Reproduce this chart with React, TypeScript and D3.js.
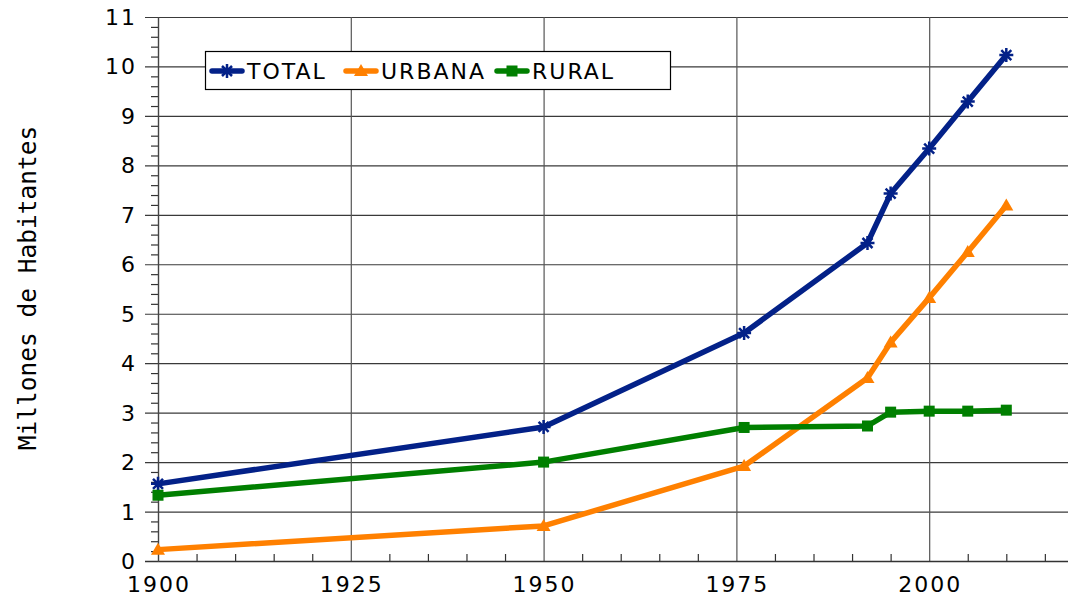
import React, { useEffect, useRef } from 'react';
import * as d3 from 'd3';

// years for each point
const years = [1900, 1950, 1976, 1992, 1995, 2000, 2005, 2010];

// millions of inhabitants
const total = [1.56, 2.71, 4.61, 6.43, 7.43, 8.34, 9.29, 10.23];
const urbana = [0.23, 0.71, 1.92, 3.7, 4.42, 5.32, 6.25, 7.19];
const rural = [1.33, 2.0, 2.7, 2.73, 3.01, 3.03, 3.03, 3.05];

const xTickLabels = [1900, 1925, 1950, 1975, 2000];
const yTickLabels = [0, 1, 2, 3, 4, 5, 6, 7, 8, 9, 10, 11];

const series = [
  { name: 'TOTAL', values: total, color: '#032188', marker: 'star' },
  { name: 'URBANA', values: urbana, color: '#ff8000', marker: 'triangle' },
  { name: 'RURAL', values: rural, color: '#007f00', marker: 'square' },
];

const W = 1068;
const H = 598;

function drawMarker(g: any, kind: string, x: number, y: number, color: string) {
  if (kind === 'square') {
    g.append('rect')
      .attr('x', x - 5.5).attr('y', y - 5.5)
      .attr('width', 11).attr('height', 11)
      .attr('fill', color);
  } else if (kind === 'triangle') {
    g.append('path')
      .attr('d', `M${x},${y - 7}L${x + 7},${y + 5}L${x - 7},${y + 5}Z`)
      .attr('fill', color);
  } else {
    const r = 7;
    const d = 5;
    g.append('path')
      .attr('d', `M${x},${y - r}L${x},${y + r}M${x - r},${y}L${x + r},${y}M${x - d},${y - d}L${x + d},${y + d}M${x - d},${y + d}L${x + d},${y - d}`)
      .attr('stroke', color)
      .attr('stroke-width', 2.5)
      .attr('fill', 'none');
  }
}

function PopulationChart() {
  const svgRef = useRef<SVGSVGElement>(null);

  useEffect(() => {
    const svg = d3.select(svgRef.current);
    svg.selectAll('*').remove();

    const x = d3.scaleLinear().domain([1900, 2018]).range([158, W]);
    const y = d3.scaleLinear().domain([0, 11]).range([561, 17]);

    const font = '"DejaVu Sans", sans-serif';

    svg.append('rect').attr('width', W).attr('height', H).attr('fill', '#fff');

    // horizontal gridlines
    svg.append('g').selectAll('line')
      .data(yTickLabels.filter(v => v > 0))
      .enter().append('line')
      .attr('x1', 145).attr('x2', W)
      .attr('y1', d => y(d) + 0.5).attr('y2', d => y(d) + 0.5)
      .attr('stroke', '#3a3a3a').attr('stroke-width', 1.2);

    // vertical gridlines
    svg.append('g').selectAll('line')
      .data(xTickLabels.filter(v => v > 1900))
      .enter().append('line')
      .attr('x1', d => x(d) + 0.5).attr('x2', d => x(d) + 0.5)
      .attr('y1', y(11)).attr('y2', y(0))
      .attr('stroke', '#555').attr('stroke-width', 1.2);

    // y minor ticks
    const yMinor = d3.range(0, 11.01, 0.2).filter(v => Math.abs(v - Math.round(v)) > 0.01);
    svg.append('g').selectAll('line')
      .data(yMinor)
      .enter().append('line')
      .attr('x1', 151).attr('x2', 158)
      .attr('y1', d => y(d) + 0.5).attr('y2', d => y(d) + 0.5)
      .attr('stroke', '#333').attr('stroke-width', 1.2);

    // x minor ticks
    const xMinor = d3.range(1905, 2018, 5).filter(v => v % 25 !== 0);
    svg.append('g').selectAll('line')
      .data(xMinor)
      .enter().append('line')
      .attr('x1', d => x(d) + 0.5).attr('x2', d => x(d) + 0.5)
      .attr('y1', 554).attr('y2', 561)
      .attr('stroke', '#333').attr('stroke-width', 1.2);

    // axes lines
    svg.append('line')
      .attr('x1', 145).attr('x2', W).attr('y1', y(0) + 0.5).attr('y2', y(0) + 0.5)
      .attr('stroke', '#333').attr('stroke-width', 1.4);
    svg.append('line')
      .attr('x1', 158.5).attr('x2', 158.5).attr('y1', y(11)).attr('y2', y(0) + 1)
      .attr('stroke', '#444').attr('stroke-width', 1.4);

    // y tick labels
    svg.append('g').selectAll('text')
      .data(yTickLabels)
      .enter().append('text')
      .attr('x', 137).attr('y', d => y(d) + 8)
      .attr('text-anchor', 'end')
      .style('font-family', font).style('font-size', '22px')
      .style('letter-spacing', '2px')
      .attr('fill', '#000')
      .text(d => d);

    // x tick labels
    svg.append('g').selectAll('text')
      .data(xTickLabels)
      .enter().append('text')
      .attr('x', d => x(d) + 1).attr('y', 592)
      .attr('text-anchor', 'middle')
      .style('font-family', font).style('font-size', '22px')
      .style('letter-spacing', '2px')
      .attr('fill', '#000')
      .text(d => d);

    // y axis title
    svg.append('text')
      .attr('transform', `translate(36, 288) rotate(-90)`)
      .attr('text-anchor', 'middle')
      .style('font-family', '"DejaVu Sans Mono", monospace')
      .style('font-size', '24.5px')
      .attr('fill', '#000')
      .text('Millones de Habitantes');

    // series
    const line = d3.line<number>()
      .x((d, i) => x(years[i]))
      .y(d => y(d));

    series.forEach(s => {
      const g = svg.append('g');
      g.append('path')
        .datum(s.values)
        .attr('d', line)
        .attr('fill', 'none')
        .attr('stroke', s.color)
        .attr('stroke-width', 5.5)
        .attr('stroke-linejoin', 'round');
      s.values.forEach((v, i) => drawMarker(g, s.marker, x(years[i]), y(v), s.color));
    });

    // legend
    const lg = svg.append('g');
    lg.append('rect')
      .attr('x', 205.5).attr('y', 51.5).attr('width', 465).attr('height', 38)
      .attr('fill', '#fff').attr('stroke', '#000').attr('stroke-width', 1.2);
    const legendX = [212, 346, 497];
    series.forEach((s, i) => {
      const lx = legendX[i];
      lg.append('line')
        .attr('x1', lx).attr('x2', lx + 30).attr('y1', 71).attr('y2', 71)
        .attr('stroke', s.color).attr('stroke-width', 5.5).attr('stroke-linecap', 'round');
      drawMarker(lg, s.marker, lx + 15, 71, s.color);
      lg.append('text')
        .attr('x', lx + 35).attr('y', 79)
        .style('font-family', font).style('font-size', '22px')
        .style('letter-spacing', '2px')
        .attr('fill', '#000')
        .text(s.name);
    });
  }, []);

  return <svg ref={svgRef} width={W} height={H} style={{ position: 'absolute', left: 0, top: 0 }}></svg>;
}

export default function App() {
  return <PopulationChart />;
}
